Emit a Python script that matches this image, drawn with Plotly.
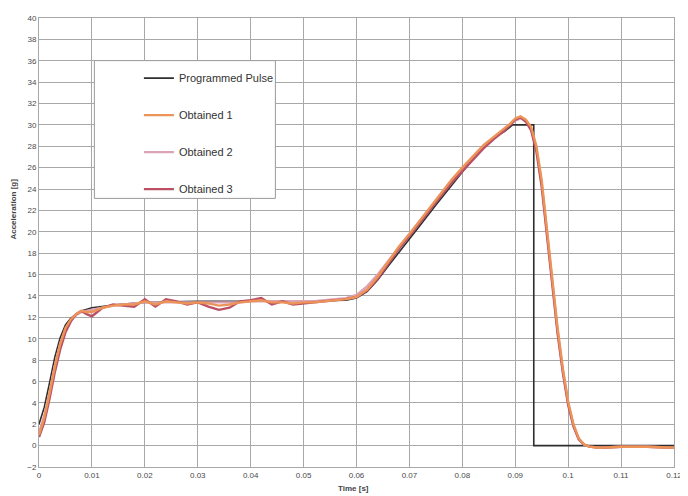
import plotly.graph_objects as go

# ---------------- data ----------------
x_tickvals = [0, 0.01, 0.02, 0.03, 0.04, 0.05, 0.06, 0.07, 0.08, 0.09, 0.10, 0.11, 0.12]
x_ticktext = ["0", "0.01", "0.02", "0.03", "0.04", "0.05", "0.06", "0.07", "0.08", "0.09", "0.1", "0.11", "0.12"]
y_tickvals = list(range(-2, 41, 2))

t_prog = [0, 0.001, 0.002, 0.003, 0.004, 0.005, 0.006, 0.007, 0.008, 0.010, 0.015, 0.020,
          0.030, 0.040, 0.050, 0.058, 0.060, 0.062, 0.064, 0.066, 0.068, 0.070, 0.072,
          0.075, 0.078, 0.080, 0.082, 0.084, 0.086, 0.088, 0.0895, 0.0935, 0.0935, 0.120]
g_prog = [2.0, 3.6, 5.9, 8.3, 10.1, 11.3, 11.9, 12.3, 12.6, 12.9, 13.2, 13.4,
          13.5, 13.5, 13.5, 13.6, 13.8, 14.4, 15.5, 16.8, 18.1, 19.3, 20.6,
          22.5, 24.4, 25.6, 26.8, 27.9, 28.8, 29.4, 30.0, 30.0, 0.0, 0.0]

t_obt = [0, 0.001, 0.002, 0.003, 0.004, 0.005, 0.006, 0.007, 0.008, 0.009, 0.010,
         0.012, 0.014, 0.016, 0.018, 0.020, 0.022, 0.024, 0.026, 0.028, 0.030,
         0.032, 0.034, 0.036, 0.038, 0.040, 0.042, 0.044, 0.046, 0.048, 0.050,
         0.052, 0.054, 0.056, 0.058, 0.060, 0.062, 0.064, 0.066, 0.068, 0.070,
         0.072, 0.074, 0.076, 0.078, 0.080, 0.082, 0.084, 0.086, 0.088,
         0.089, 0.090, 0.091, 0.092, 0.093, 0.094, 0.095, 0.096, 0.097, 0.098,
         0.099, 0.100, 0.101, 0.102, 0.103, 0.104, 0.106, 0.110, 0.115, 0.120]

g_obt1 = [1.0, 2.6, 4.9, 7.4, 9.5, 11.0, 11.8, 12.3, 12.6, 12.5, 12.5,
          12.9, 13.1, 13.2, 13.2, 13.5, 13.2, 13.5, 13.4, 13.3, 13.4,
          13.3, 13.1, 13.2, 13.4, 13.5, 13.6, 13.4, 13.4, 13.3, 13.4,
          13.4, 13.5, 13.6, 13.7, 13.9, 14.6, 15.8, 17.2, 18.6, 19.8,
          21.1, 22.4, 23.7, 24.9, 26.0, 27.1, 28.1, 28.9, 29.7,
          30.1, 30.6, 30.8, 30.5, 29.8, 28.0, 24.8, 20.2, 15.6, 11.0,
          7.2, 4.1, 2.0, 0.7, 0.1, -0.1, -0.2, -0.1, -0.1, -0.2]

g_obt2 = [1.2, 2.8, 5.0, 7.5, 9.5, 10.9, 11.7, 12.2, 12.5, 12.6, 12.7,
          12.9, 13.1, 13.2, 13.3, 13.4, 13.4, 13.4, 13.4, 13.4, 13.4,
          13.4, 13.4, 13.4, 13.4, 13.5, 13.5, 13.5, 13.5, 13.5, 13.5,
          13.5, 13.6, 13.7, 13.8, 14.1, 14.9, 16.0, 17.3, 18.6, 19.8,
          21.0, 22.3, 23.6, 24.8, 25.9, 27.0, 28.0, 28.8, 29.6,
          30.0, 30.4, 30.6, 30.4, 29.6, 27.8, 24.5, 20.0, 15.3, 10.8,
          7.0, 4.0, 1.9, 0.6, 0.1, -0.1, -0.2, -0.1, -0.1, -0.2]

g_obt3 = [0.8, 2.2, 4.4, 6.9, 9.0, 10.6, 11.6, 12.3, 12.6, 12.3, 12.1,
          12.9, 13.2, 13.1, 13.0, 13.7, 13.0, 13.7, 13.5, 13.2, 13.4,
          13.0, 12.7, 12.9, 13.5, 13.6, 13.8, 13.2, 13.5, 13.2, 13.3,
          13.4, 13.5, 13.6, 13.7, 13.9, 14.5, 15.6, 17.0, 18.4, 19.6,
          20.9, 22.2, 23.4, 24.6, 25.7, 26.8, 27.8, 28.7, 29.5,
          30.0, 30.5, 30.7, 30.3, 29.5, 27.5, 24.2, 19.6, 15.0, 10.5,
          6.8, 3.8, 1.8, 0.6, 0.1, -0.1, -0.2, -0.1, -0.1, -0.2]

series_names = ["Programmed Pulse", "Obtained 1", "Obtained 2", "Obtained 3"]
colors = ["#2e2e2e", "#ec9358", "#dba3b6", "#bb5064"]

# ---------------- figure ----------------
fig = go.Figure()
fig.add_trace(go.Scatter(x=t_prog, y=g_prog, mode="lines", name=series_names[0],
                         line=dict(color=colors[0], width=1.6), legendgroup="a", legendrank=1))
fig.add_trace(go.Scatter(x=t_obt, y=g_obt2, mode="lines", name=series_names[2],
                         line=dict(color=colors[2], width=2.4), legendgroup="c", legendrank=3))
fig.add_trace(go.Scatter(x=t_obt, y=g_obt3, mode="lines", name=series_names[3],
                         line=dict(color=colors[3], width=2.4), legendgroup="d", legendrank=4))
fig.add_trace(go.Scatter(x=t_obt, y=g_obt1, mode="lines", name=series_names[1],
                         line=dict(color=colors[1], width=2.4), legendgroup="b", legendrank=2))

# page offset from the default body margin
OX, OY = 8, 8
W, H = 688 - OX, 496 - OY
# plot area in page pixels: x 39..681, y 14..467
ml, mr, mt, mb = 39 - OX, 7, 14 - OY, 496 - 467
PW, PH = W - ml - mr, H - mt - mb


def px(xp):
    return (xp - OX - ml) / PW


def py(yp):
    return 1 - (yp - OY - mt) / PH


axis_common = dict(showgrid=True, gridcolor="#a8a8a8", gridwidth=1, zeroline=False,
                   showline=True, linecolor="#a8a8a8", linewidth=1, mirror=True,
                   ticks="", ticklabeloverflow="allow",
                   tickfont=dict(family="Arial", size=8, color="#4a4a4a"))

fig.update_layout(
    width=W, height=H,
    margin=dict(l=ml, r=mr, t=mt, b=mb),
    paper_bgcolor="white", plot_bgcolor="white",
    showlegend=True,
    legend=dict(x=px(140), y=py(60),
                xanchor="left", yanchor="top",
                bgcolor="rgba(0,0,0,0)", borderwidth=0,
                traceorder="grouped", tracegroupgap=18,
                font=dict(family="Arial", size=11, color="#333333"),
                itemwidth=30),
    xaxis=dict(range=[0, 0.12], tickvals=x_tickvals, ticktext=x_ticktext, **axis_common),
    yaxis=dict(range=[-2, 40], tickvals=y_tickvals, **axis_common),
)

# legend box
fig.add_shape(type="rect", xref="paper", yref="paper", layer="above",
              x0=px(95), x1=px(278), y0=py(196), y1=py(57),
              fillcolor="white", line=dict(color="#9a9a9a", width=1))

# axis titles
fig.add_annotation(text="<b>Acceleration [g]</b>", xref="paper", yref="paper",
                   x=px(13), y=py(207),
                   textangle=-90, showarrow=False, xanchor="center", yanchor="middle",
                   font=dict(family="Arial", size=8, color="#444444"))
fig.add_annotation(text="<b>Time [s]</b>", xref="paper", yref="paper",
                   x=px(357), y=py(489),
                   showarrow=False, xanchor="center", yanchor="middle",
                   font=dict(family="Arial", size=8, color="#444444"))

fig.write_html("out.html")
